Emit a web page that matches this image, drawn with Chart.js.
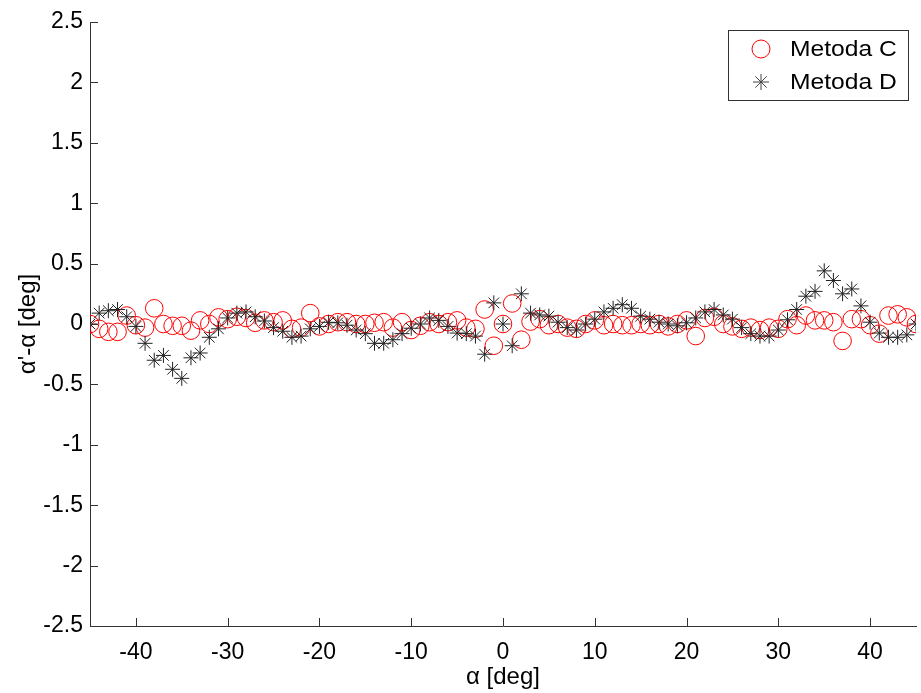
<!DOCTYPE html>
<html>
<head>
<meta charset="utf-8">
<script src="https://cdn.jsdelivr.net/npm/chart.js@4.4.0/dist/chart.umd.min.js"></script>
<style>
  html, body { margin: 0; padding: 0; background: #fff; overflow: hidden; }
</style>
</head>
<body>
<canvas id="errChart" width="921" height="693"></canvas>
<script>
//////// Data ////////
const alphaDeg = [
  -45, -44, -43, -42, -41, -40, -39, -38, -37, -36, -35, -34, -33, -32, -31,
  -30, -29, -28, -27, -26, -25, -24, -23, -22, -21, -20, -19, -18, -17, -16,
  -15, -14, -13, -12, -11, -10, -9, -8, -7, -6, -5, -4, -3, -2, -1,
  0, 1, 2, 3, 4, 5, 6, 7, 8, 9, 10, 11, 12, 13, 14,
  15, 16, 17, 18, 19, 20, 21, 22, 23, 24, 25, 26, 27, 28, 29,
  30, 31, 32, 33, 34, 35, 36, 37, 38, 39, 40, 41, 42, 43, 44, 45,
];

const metodaC = [
  0, -0.04, -0.065, -0.065, 0.07, -0.01, -0.03, 0.13, 0, -0.015, -0.015, -0.055, 0.03, 0, 0.055,
  0.04, 0.06, 0.05, 0.01, 0.03, 0.015, 0.03, -0.04, -0.03, 0.09, -0.02, 0, 0.015, 0.015, 0,
  0, 0.01, 0.015, -0.03, 0.015, -0.05, -0.015, 0.015, 0, 0.015, 0.03, -0.03, -0.04, 0.12, -0.18,
  0, 0.17, -0.13, 0.02, 0.04, -0.01, 0, -0.03, -0.04, 0, 0.03, -0.01, 0, -0.01, -0.01,
  0, -0.01, 0, -0.02, 0, 0.03, -0.1, 0.05, 0.06, 0, -0.02, -0.04, -0.03, -0.05, -0.03,
  -0.04, 0.04, -0.01, 0.07, 0.03, 0.03, 0.015, -0.14, 0.04, 0.04, -0.01, -0.08, 0.07, 0.08, 0.055, 0,
];

const metodaD = [
  0, 0.09, 0.11, 0.12, 0.06, -0.02, -0.16, -0.3, -0.26, -0.375, -0.45, -0.28, -0.24, -0.11, -0.04,
  0.05, 0.09, 0.1, 0.06, 0.025, -0.03, -0.06, -0.11, -0.1, -0.04, -0.02, 0.014, 0.01, -0.01, -0.05,
  -0.08, -0.16, -0.16, -0.13, -0.08, -0.035, 0, 0.05, 0.03, -0.02, -0.075, -0.08, -0.1, -0.25, 0.175,
  0, -0.18, 0.25, 0.09, 0.075, 0.065, 0.015, -0.03, -0.05, 0, 0.04, 0.1, 0.13, 0.16, 0.13,
  0.065, 0.04, 0.015, 0, -0.015, 0.01, 0.05, 0.1, 0.12, 0.075, 0.04, -0.03, -0.08, -0.1, -0.1,
  -0.05, 0.035, 0.12, 0.23, 0.27, 0.44, 0.36, 0.25, 0.29, 0.15, 0.015, -0.075, -0.11, -0.11, -0.09, 0,
];

const xTicks = [-40, -30, -20, -10, 0, 10, 20, 30, 40];
const yTicks = [-2.5, -2, -1.5, -1, -0.5, 0, 0.5, 1, 1.5, 2, 2.5];

const seriesNames = ["Metoda C", "Metoda D"];

//////// Helpers ////////
const FONT = "'Liberation Sans', Arial, sans-serif";
const toPoints = (ys) => alphaDeg.map((x, i) => ({ x: x, y: ys[i] }));

const drawStar = function (ctx, x, y, r) {
  const d = r * Math.SQRT1_2;
  ctx.beginPath();
  ctx.moveTo(x - r, y);
  ctx.lineTo(x + r, y);
  ctx.moveTo(x, y - r);
  ctx.lineTo(x, y + r);
  ctx.moveTo(x - d, y - d);
  ctx.lineTo(x + d, y + d);
  ctx.moveTo(x - d, y + d);
  ctx.lineTo(x + d, y - d);
  ctx.stroke();
};

// wide legend text (stretched a little sideways)
const wideText = function (ctx, text, x, y) {
  ctx.save();
  ctx.translate(x, y);
  ctx.scale(1.12, 1);
  ctx.fillText(text, 0, 0);
  ctx.restore();
};

// inward tick marks on the two axes
const inwardTicks = {
  id: "inwardTicks",
  afterDraw(chart) {
    const { ctx, chartArea, scales } = chart;
    ctx.save();
    ctx.strokeStyle = "#333";
    ctx.lineWidth = 1;
    ctx.beginPath();
    xTicks.forEach((v) => {
      const px = Math.round(scales.x.getPixelForValue(v)) + 0.5;
      ctx.moveTo(px, chartArea.bottom);
      ctx.lineTo(px, chartArea.bottom - 8);
    });
    yTicks.forEach((v) => {
      const py = Math.round(scales.y.getPixelForValue(v)) + 0.5;
      ctx.moveTo(chartArea.left, py);
      ctx.lineTo(chartArea.left + 8, py);
    });
    ctx.stroke();
    ctx.restore();
  },
};

// boxed legend in the upper right corner
const boxLegend = {
  id: "boxLegend",
  afterDraw(chart) {
    const ctx = chart.ctx;
    const left = 728.5, top = 30.5, w = 180, h = 70;
    ctx.save();
    ctx.fillStyle = "#fff";
    ctx.fillRect(left, top, w, h);
    ctx.strokeStyle = "#333";
    ctx.lineWidth = 1;
    ctx.strokeRect(left, top, w, h);

    ctx.font = "22px " + FONT;
    ctx.fillStyle = "#000";
    ctx.textBaseline = "middle";
    ctx.textAlign = "left";

    // Metoda C
    ctx.strokeStyle = "#ff0000";
    ctx.beginPath();
    ctx.arc(761, 49, 9, 0, Math.PI * 2);
    ctx.stroke();
    wideText(ctx, seriesNames[0], 790, 50);

    // Metoda D
    ctx.strokeStyle = "#444";
    drawStar(ctx, 761, 82, 8);
    wideText(ctx, seriesNames[1], 790, 83);
    ctx.restore();
  },
};

//////// Chart ////////
const ctx = document.getElementById("errChart");
const errChart = new Chart(ctx, {
  type: "scatter",
  data: {
    datasets: [
      {
        label: seriesNames[1],
        data: toPoints(metodaD),
        pointStyle: "star",
        pointRadius: 7.5,
        pointBorderWidth: 1,
        borderColor: "#222",
        backgroundColor: "#222",
        showLine: false,
        order: 0,
      },
      {
        label: seriesNames[0],
        data: toPoints(metodaC),
        pointStyle: "circle",
        pointRadius: 8.8,
        pointBorderWidth: 1,
        borderColor: "#ff0000",
        backgroundColor: "rgba(0,0,0,0)",
        showLine: false,
        order: 1,
      },
    ],
  },
  options: {
    responsive: false,
    animation: false,
    layout: {
      autoPadding: false,
      padding: { top: 22, right: 5, left: 0, bottom: 0 },
    },
    scales: {
      x: {
        type: "linear",
        min: -45,
        max: 45,
        afterBuildTicks: (scale) => {
          scale.ticks = xTicks.map((v) => ({ value: v }));
        },
        afterFit: (scale) => {
          scale.height = 67;
          scale.paddingLeft = 0;
          scale.paddingRight = 0;
        },
        grid: { display: false, drawTicks: false },
        border: { display: true, color: "#333", width: 1 },
        ticks: {
          color: "#000",
          padding: 13,
          maxRotation: 0,
          font: { family: FONT, size: 23 },
          callback: (v) => String(v),
        },
        title: {
          display: true,
          text: "α [deg]",
          color: "#000",
          font: { family: FONT, size: 24 },
          padding: { top: 0, bottom: 1 },
        },
      },
      y: {
        type: "linear",
        min: -2.5,
        max: 2.5,
        afterBuildTicks: (scale) => {
          scale.ticks = yTicks.map((v) => ({ value: v }));
        },
        afterFit: (scale) => {
          scale.width = 90;
          scale.paddingTop = 0;
          scale.paddingBottom = 0;
        },
        grid: { display: false, drawTicks: false },
        border: { display: true, color: "#333", width: 1 },
        ticks: {
          color: "#000",
          padding: 7,
          font: { family: FONT, size: 23 },
          callback: (v) => String(v),
        },
        title: {
          display: true,
          text: "α'-α [deg]",
          color: "#000",
          font: { family: FONT, size: 24 },
          padding: { top: 14, bottom: 0 },
        },
      },
    },
    plugins: {
      legend: { display: false },
      tooltip: { enabled: false },
    },
  },
  plugins: [inwardTicks, boxLegend],
});
</script>
</body>
</html>
